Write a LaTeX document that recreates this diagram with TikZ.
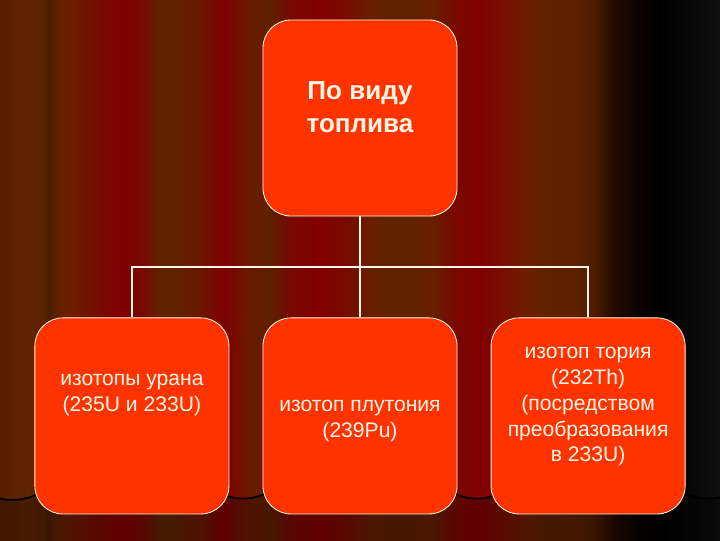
\documentclass[tikz,border=0pt]{standalone}
\usepackage{fontspec}
\setmainfont{Liberation Sans}
\usetikzlibrary{positioning,calc}

\definecolor{boxfill}{HTML}{FF3300}
\definecolor{cream}{HTML}{FFF6E6}

% curtain stripes, 25bp..75bp is the picture width
\pgfdeclarehorizontalshading{curtain}{100bp}{%
  rgb(0bp)=(.34,.12,0); rgb(25bp)=(.34,.12,0); rgb(25.69bp)=(.35,.13,0);
  rgb(26.88bp)=(.38,.14,.02); rgb(27.99bp)=(.36,.13,0); rgb(28.33bp)=(.29,.11,0);
  rgb(28.82bp)=(.36,.13,0); rgb(29.65bp)=(.42,.12,0); rgb(31.74bp)=(.46,.05,0);
  rgb(33.33bp)=(.5,0,0); rgb(34.72bp)=(.47,.03,0); rgb(35.42bp)=(.43,.08,0);
  rgb(36.11bp)=(.37,.14,0); rgb(37.01bp)=(.37,.14,0); rgb(38.89bp)=(.42,.09,0);
  rgb(39.93bp)=(.47,.03,0); rgb(40.63bp)=(.5,0,0); rgb(42.01bp)=(.43,.09,0);
  rgb(43.75bp)=(.37,.13,0); rgb(45.14bp)=(.47,.03,0); rgb(47.22bp)=(.5,0,0);
  rgb(48.96bp)=(.47,.04,0); rgb(50.69bp)=(.4,.12,0); rgb(52.78bp)=(.37,.13,0);
  rgb(55.07bp)=(.4,.12,0); rgb(56.60bp)=(.48,.03,0); rgb(58.33bp)=(.5,0,0);
  rgb(60.07bp)=(.47,.06,0); rgb(61.46bp)=(.42,.12,0); rgb(63.19bp)=(.37,.13,0);
  rgb(64.93bp)=(.36,.13,0); rgb(66.32bp)=(.3,.11,0); rgb(67.71bp)=(.13,.04,0);
  rgb(69.44bp)=(.04,.01,0); rgb(70.83bp)=(0,0,0); rgb(72.92bp)=(.03,.03,.03);
  rgb(75bp)=(.06,.06,.06); rgb(100bp)=(.06,.06,.06)}

\tikzset{
  fuelbox/.style={draw=cream, line width=0.6pt, fill=boxfill, rounded corners=0.7cm,
    minimum width=4.85cm, minimum height=4.9cm},
  boxtext/.style={text=cream, align=center, font=\fontsize{15}{18.4}\selectfont},
  headtext/.style={boxtext, font=\bfseries\fontsize{18.5}{23.5}\selectfont},
  link/.style={draw=cream, line width=1.1pt},
  hem/.style={draw=black, line width=1.2pt}
}

\begin{document}
\begin{tikzpicture}[x=0.025cm, y=-0.025cm]
	\useasboundingbox (0,0) rectangle (720,540);
	\clip (0,0) rectangle (720,540);
	\shade[shading=curtain] (0,0) rectangle (720,540);

	% curtain hem and the darker floor under it
	\fill[black, opacity=0.25] (-30,480) .. controls (-5,508) and (35,508) .. (70,470)
		-- (190,470) .. controls (225,508) and (260,508) .. (300,470)
		-- (420,470) .. controls (460,508) and (495,508) .. (530,470)
		-- (650,470) .. controls (690,508) and (730,508) .. (760,470)
		-- (760,560) -- (-30,560) -- cycle;
	\draw[hem] (-30,480) .. controls (-5,508) and (35,508) .. (70,470)
		(190,470) .. controls (225,508) and (260,508) .. (300,470)
		(420,470) .. controls (460,508) and (495,508) .. (530,470)
		(650,470) .. controls (690,508) and (730,508) .. (760,470);

	\node[fuelbox] (fuel) at (360,118) {};
	\node[fuelbox, below=2.525cm of fuel] (pu) {};
	\node[fuelbox, left=0.83cm of pu] (u) {};
	\node[fuelbox, right=0.83cm of pu] (th) {};

	\coordinate (fork) at ($(fuel.south)!0.5!(pu.north)$);
	\draw[link] (fuel.south) -- (pu.north);
	\draw[link] (u.north) |- (fork) -| (th.north);

	\node[headtext] (fueltext) at ([yshift=0.27cm]fuel.center) {По виду\\топлива};
	\node[boxtext] (utext) at ([yshift=0.53cm]u.center) {изотопы урана\\(235U и 233U)};
	\node[boxtext] (putext) at ([yshift=-0.12cm]pu.center) {изотоп плутония\\(239Pu)};
	\node[boxtext] (thtext) at ([yshift=0.23cm]th.center)
		{изотоп тория\\(232Th)\\(посредством\\преобразования\\в 233U)};
\end{tikzpicture}
\end{document}
